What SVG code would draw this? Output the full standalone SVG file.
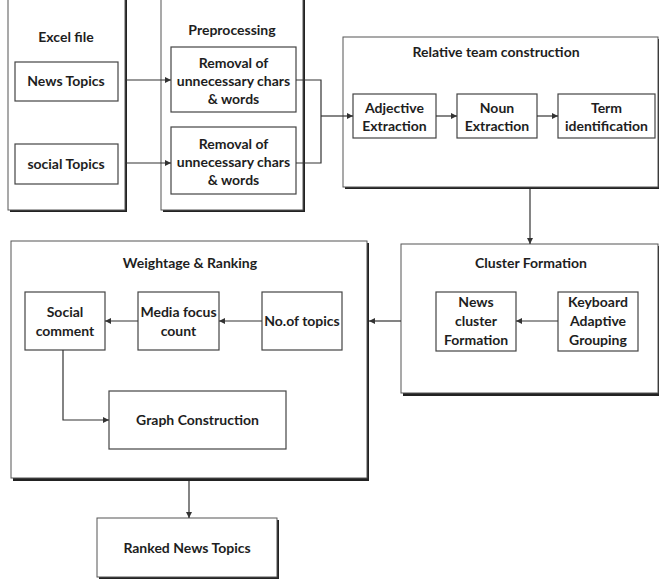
<svg xmlns="http://www.w3.org/2000/svg" width="659" height="579" viewBox="0 0 659 579">
<style>
  text { font-family: Lato, "Open Sans", "Liberation Sans", sans-serif; font-weight: bold; font-size: 14px; fill: #1e1e1e; text-anchor: middle; }
  .cont { fill: #fff; stroke: #555; stroke-width: 1; }
  .shadow { fill: #222; }
  .box { fill: #fff; stroke: #444; stroke-width: 1.2; }
  .conn { fill: none; stroke: #333; stroke-width: 1.2; }
</style>
<defs>
  <marker id="arr" markerWidth="7" markerHeight="6" refX="6" refY="3" orient="auto" markerUnits="userSpaceOnUse">
    <path d="M0,0 L6,3 L0,6 Z" fill="#333"/>
  </marker>
</defs>
<rect width="659" height="579" fill="#fff"/>

<g id="excel">
  <rect class="shadow" x="10" y="-5" width="117" height="217"/>
  <rect class="cont" x="8" y="-5" width="117" height="215"/>
  <text x="66" y="42">Excel file</text>
</g>
<g id="news-topics">
  <rect class="box" x="15" y="62" width="103" height="39"/>
  <text x="66" y="86">News Topics</text>
</g>
<g id="social-topics">
  <rect class="box" x="15" y="144" width="103" height="40"/>
  <text x="66" y="169">social Topics</text>
</g>

<g id="preprocessing">
  <rect class="shadow" x="163" y="-5" width="142" height="217"/>
  <rect class="cont" x="161" y="-5" width="142" height="215"/>
  <text x="232" y="35">Preprocessing</text>
</g>
<g id="removal1">
  <rect class="box" x="171" y="47" width="125" height="65"/>
  <text x="233.5" y="68">Removal of</text>
  <text x="233.5" y="86">unnecessary chars</text>
  <text x="233.5" y="104">&amp; words</text>
</g>
<g id="removal2">
  <rect class="box" x="171" y="127" width="125" height="67"/>
  <text x="233.5" y="149">Removal of</text>
  <text x="233.5" y="167">unnecessary chars</text>
  <text x="233.5" y="185">&amp; words</text>
</g>

<g id="relative">
  <rect class="shadow" x="345" y="39" width="316" height="150"/>
  <rect class="cont" x="343" y="37" width="315" height="150"/>
  <text x="496" y="57">Relative team construction</text>
</g>
<g id="adjective">
  <rect class="box" x="353" y="94" width="83" height="44"/>
  <text x="394.5" y="113">Adjective</text>
  <text x="394.5" y="131">Extraction</text>
</g>
<g id="noun">
  <rect class="box" x="457" y="94" width="80" height="44"/>
  <text x="497" y="113">Noun</text>
  <text x="497" y="131">Extraction</text>
</g>
<g id="term">
  <rect class="box" x="558" y="94" width="97" height="44"/>
  <text x="606.5" y="113">Term</text>
  <text x="606.5" y="131">identification</text>
</g>

<g id="cluster">
  <rect class="shadow" x="403" y="246" width="258" height="150"/>
  <rect class="cont" x="401" y="244" width="257" height="149"/>
  <text x="531" y="268">Cluster Formation</text>
</g>
<g id="news-cluster">
  <rect class="box" x="436" y="292" width="80" height="59"/>
  <text x="476" y="307">News</text>
  <text x="476" y="326">cluster</text>
  <text x="476" y="345">Formation</text>
</g>
<g id="keyboard">
  <rect class="box" x="558" y="292" width="80" height="59"/>
  <text x="598" y="307">Keyboard</text>
  <text x="598" y="326">Adaptive</text>
  <text x="598" y="345">Grouping</text>
</g>

<g id="weightage">
  <rect class="shadow" x="13" y="243" width="356" height="238"/>
  <rect class="cont" x="11" y="241" width="356" height="237"/>
  <text x="190" y="268">Weightage &amp; Ranking</text>
</g>
<g id="social-comment">
  <rect class="box" x="25" y="292" width="80" height="58"/>
  <text x="65" y="317">Social</text>
  <text x="65" y="336">comment</text>
</g>
<g id="media-focus">
  <rect class="box" x="138" y="292" width="81" height="58"/>
  <text x="178.5" y="317">Media focus</text>
  <text x="178.5" y="336">count</text>
</g>
<g id="no-topics">
  <rect class="box" x="262" y="292" width="80" height="58"/>
  <text x="302" y="326">No.of topics</text>
</g>
<g id="graph">
  <rect class="box" x="109" y="391" width="177" height="58"/>
  <text x="197.5" y="425">Graph Construction</text>
</g>

<g id="ranked">
  <rect class="shadow" x="99" y="520" width="180" height="59"/>
  <rect class="cont" x="97" y="518" width="180" height="59"/>
  <text x="187" y="553">Ranked News Topics</text>
</g>

<g id="connectors">
  <line class="conn" x1="125" y1="80" x2="171" y2="80" marker-end="url(#arr)"/>
  <line class="conn" x1="125" y1="163" x2="171" y2="163" marker-end="url(#arr)"/>
  <polyline class="conn" points="296,80 321,80 321,163 296,163"/>
  <line class="conn" x1="321" y1="116" x2="353" y2="116" marker-end="url(#arr)"/>
  <line class="conn" x1="436" y1="116" x2="457" y2="116" marker-end="url(#arr)"/>
  <line class="conn" x1="537" y1="116" x2="558" y2="116" marker-end="url(#arr)"/>
  <line class="conn" x1="530" y1="189" x2="530" y2="244" marker-end="url(#arr)"/>
  <line class="conn" x1="558" y1="321" x2="516" y2="321" marker-end="url(#arr)"/>
  <line class="conn" x1="401" y1="321" x2="369" y2="321" marker-end="url(#arr)"/>
  <line class="conn" x1="262" y1="321" x2="219" y2="321" marker-end="url(#arr)"/>
  <line class="conn" x1="138" y1="321" x2="105" y2="321" marker-end="url(#arr)"/>
  <polyline class="conn" points="63,350 63,420 109,420" marker-end="url(#arr)"/>
  <line class="conn" x1="189" y1="481" x2="189" y2="518" marker-end="url(#arr)"/>
</g>
</svg>
